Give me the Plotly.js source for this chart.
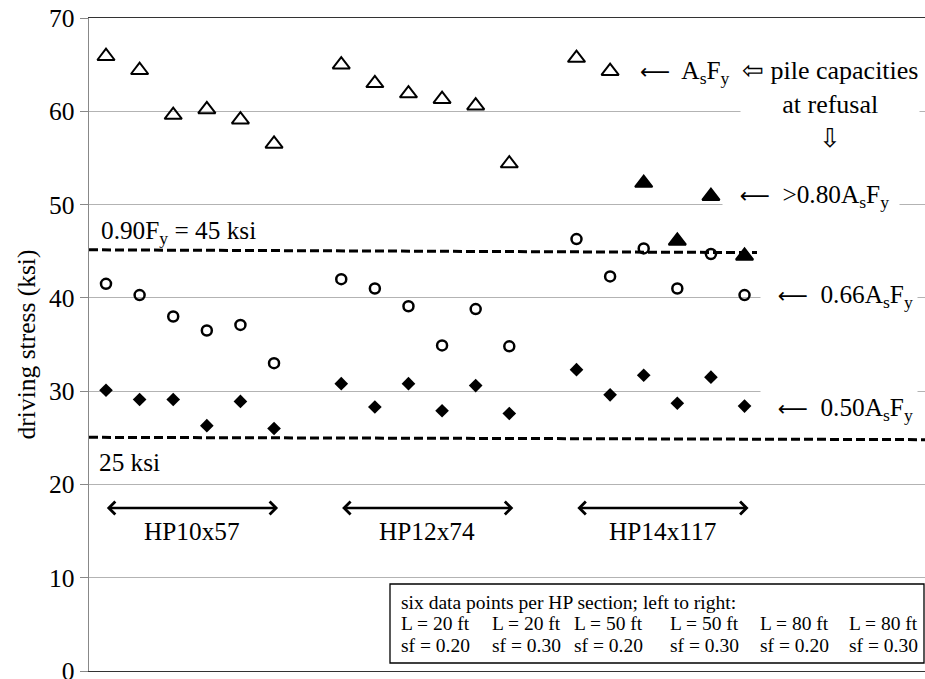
<!DOCTYPE html>
<html><head><meta charset="utf-8">
<script src="https://cdn.plot.ly/plotly-3.0.1.min.js"></script>
<style>html,body{margin:0;padding:0;background:#fff}#chart{width:925px;height:679px}</style>
</head><body><div id="chart"></div>
<script>
// ---- data ----
const sections = ["HP10x57", "HP12x74", "HP14x117"];
const lengthLabels = ["L = 20 ft", "L = 20 ft", "L = 50 ft", "L = 50 ft", "L = 80 ft", "L = 80 ft"];
const sfLabels = ["sf = 0.20", "sf = 0.30", "sf = 0.20", "sf = 0.30", "sf = 0.20", "sf = 0.30"];
const xPos = [1, 2, 3, 4, 5, 6, 8, 9, 10, 11, 12, 13, 15, 16, 17, 18, 19, 20];
const sectionOf = [0,0,0,0,0,0, 1,1,1,1,1,1, 2,2,2,2,2,2];
// driving stress at refusal (ksi)
const stressCapacity = [65.9, 64.4, 59.6, 60.2, 59.1, 56.5,
                        65.0, 63.0, 61.9, 61.3, 60.6, 54.4,
                        65.7, 64.3, 52.3, 46.1, 50.9, 44.5];
const capacityReduced = [false,false,false,false,false,false,
                         false,false,false,false,false,false,
                         false,false,true,true,true,true];
const stress066 = [41.5, 40.3, 38.0, 36.5, 37.1, 33.0,
                   42.0, 41.0, 39.1, 34.9, 38.8, 34.8,
                   46.3, 42.3, 45.3, 41.0, 44.7, 40.3];
const stress050 = [30.1, 29.1, 29.1, 26.3, 28.9, 26.0,
                   30.8, 28.3, 30.8, 27.9, 30.6, 27.6,
                   32.3, 29.6, 31.7, 28.7, 31.5, 28.4];
const limit090 = [45.15, 44.85];
const limit025 = [25.05, 24.8];
const yTicks = [0, 10, 20, 30, 40, 50, 60, 70];

// ---- layout helpers ----
const W = 925, H = 679, L = 89, R = 0, T = 18, B = 8;
const xRange = [0.494, 25.37], yRange = [0, 70];
const pw = W - L - R, ph = H - T - B;
const px2x = p => xRange[0] + (p - L) / pw * (xRange[1] - xRange[0]);
const px2y = p => yRange[1] - (p - T) / ph * (yRange[1] - yRange[0]);
const FONT = "'Liberation Serif', 'Times New Roman', Times, serif";
const ARROW = '<span style="font-family:\'DejaVu Sans\';font-size:21px">⟵</span>';

const traces = [
  {x: [xRange[0], px2x(757)], y: limit090, mode: "lines", line: {color: "#000", width: 3, dash: "9px,4px"}, hoverinfo: "skip", showlegend: false},
  {x: [xRange[0], xRange[1]], y: limit025, mode: "lines", line: {color: "#000", width: 3, dash: "9px,4px"}, hoverinfo: "skip", showlegend: false},
  {x: xPos, y: stressCapacity, mode: "markers", name: "AsFy",
   marker: {symbol: capacityReduced.map(r => r ? "triangle-up" : "triangle-up-open"), size: 15, color: "#000", line: {color: "#000", width: 2}}},
  {x: xPos, y: stress066, mode: "markers", name: "0.66AsFy",
   marker: {symbol: "circle-open", size: 10, color: "#000", line: {color: "#000", width: 2.5}}},
  {x: xPos, y: stress050, mode: "markers", name: "0.50AsFy",
   marker: {symbol: "diamond", size: 10.5, color: "#000", line: {width: 0}}}
];

const ann = [];
const FS = 25.3;
const base = {showarrow: false, font: {family: FONT, size: FS, color: "#000"}};
ann.push(Object.assign({}, base, {x: px2x(99), y: px2y(232), xanchor: "left", text: "0.90F<sub>y</sub> = 45 ksi"}));
ann.push(Object.assign({}, base, {x: px2x(97), y: px2y(462), xanchor: "left", text: "25 ksi"}));
sections.forEach((s, k) => {
  const xs = xPos.filter((_, i) => sectionOf[i] === k);
  const x0 = Math.min(...xs), x1 = Math.max(...xs);
  ann.push(Object.assign({}, base, {x: (x0 + x1) / 2 + 0.05, y: px2y(531), text: s}));
  ann.push({x: x1 + 0.12, y: px2y(508), ax: x0 - 0.02, ay: px2y(508), axref: "x", ayref: "y", xref: "x", yref: "y",
            text: "", showarrow: true, arrowside: "end+start", arrowhead: 4, arrowsize: 1, arrowwidth: 2.5, arrowcolor: "#000", standoff: 0, startstandoff: 0});
});
ann.push(Object.assign({}, base, {x: px2x(638), y: px2y(72), xanchor: "left", text: ARROW + "  A<sub>s</sub>F<sub>y</sub>"}));
ann.push(Object.assign({}, base, {x: px2x(740), y: px2y(54), xanchor: "left", yanchor: "top", align: "center", bgcolor: "#fff", borderpad: 1,
  font: {family: FONT, size: 26, color: "#000"}, text: "⇦ pile capacities<br>at refusal<br>⇩"}));
ann.push(Object.assign({}, base, {x: px2x(722), y: px2y(196), xanchor: "left", bgcolor: "#fff", borderpad: 4, text: "  " + ARROW + "  &gt;0.80A<sub>s</sub>F<sub>y</sub> "}));
ann.push(Object.assign({}, base, {x: px2x(760), y: px2y(296), xanchor: "left", bgcolor: "#fff", borderpad: 4, text: "  " + ARROW + "  0.66A<sub>s</sub>F<sub>y</sub>"}));
ann.push(Object.assign({}, base, {x: px2x(760), y: px2y(409), xanchor: "left", bgcolor: "#fff", borderpad: 4, text: "  " + ARROW + "  0.50A<sub>s</sub>F<sub>y</sub>"}));
// data-point key box
const small = {showarrow: false, font: {family: FONT, size: 19.5, color: "#000"}, xanchor: "left"};
ann.push(Object.assign({}, small, {x: px2x(399), y: px2y(602), text: "six data points per HP section; left to right:"}));
const colPx = [399, 490, 572, 668, 758, 847];
lengthLabels.forEach((t, i) => ann.push(Object.assign({}, small, {x: px2x(colPx[i]), y: px2y(623), text: t})));
sfLabels.forEach((t, i) => ann.push(Object.assign({}, small, {x: px2x(colPx[i]), y: px2y(645), text: t})));

const layout = {
  width: W, height: H, margin: {l: L, r: R, t: T, b: B},
  paper_bgcolor: "#fff", plot_bgcolor: "#fff",
  font: {family: FONT, size: FS, color: "#000"},
  showlegend: false,
  xaxis: {range: xRange, showgrid: false, zeroline: false, showticklabels: false, ticks: "",
          showline: true, mirror: true, linecolor: "#333", linewidth: 1.3},
  yaxis: {range: yRange, tickvals: yTicks, ticktext: yTicks.map(String), showgrid: true, gridcolor: "#b3b3b3", gridwidth: 1,
          zeroline: false, showline: true, linecolor: "#888", linewidth: 1.3, ticks: "outside", ticklen: 8, tickcolor: "#888",
          ticklabeloverflow: "allow", tickfont: {family: FONT, size: 25.5, color: "#000"},
          title: {text: "driving stress (ksi)", font: {family: FONT, size: 25.5, color: "#000"}, standoff: 6}},
  shapes: [{type: "rect", xref: "paper", yref: "y", x0: (390 - L) / pw, x1: (924 - L) / pw, y0: px2y(663), y1: px2y(584),
            line: {color: "#000", width: 1.3}, fillcolor: "#fff", layer: "above"}],
  annotations: ann
};
Plotly.newPlot("chart", traces, layout, {displayModeBar: false, staticPlot: true});
</script></body></html>
